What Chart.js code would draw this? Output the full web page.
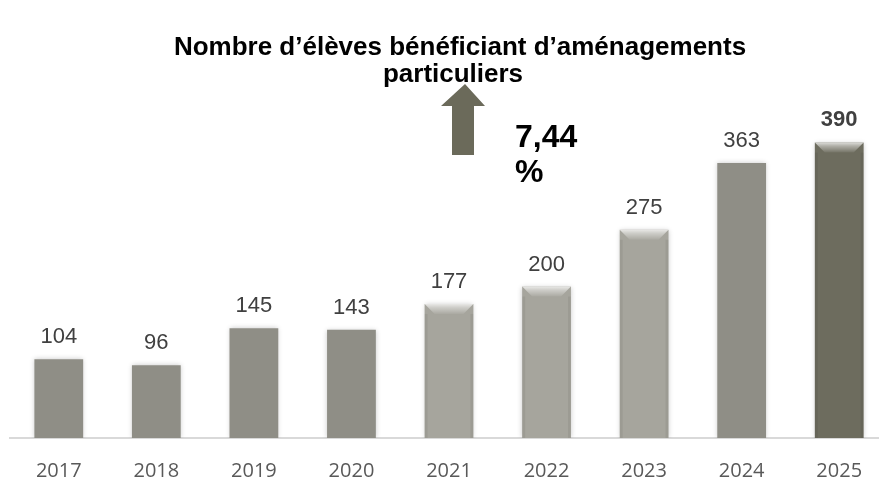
<!DOCTYPE html>
<html>
<head>
<meta charset="utf-8">
<script src="https://cdn.jsdelivr.net/npm/chart.js@4.4.1/dist/chart.umd.min.js"></script>
<style>
  html, body { margin: 0; padding: 0; background: #fff; overflow: hidden; }
  #wrap { position: relative; width: 900px; height: 482px; }
</style>
</head>
<body>
<div id="wrap"><canvas id="chartEleves" width="900" height="482"></canvas></div>
<script>
const years = ['2017', '2018', '2019', '2020', '2021', '2022', '2023', '2024', '2025'];
const eleves = [104, 96, 145, 143, 177, 200, 275, 363, 390];
const titleLines = ['Nombre d\u2019élèves bénéficiant d\u2019aménagements', 'particuliers'];
const growthText = ['7,44', '%'];

// look of each bar (flat / bevelled)
const barColors = ['#8f8e86', '#8f8e86', '#8f8e86', '#8f8e86', '#a6a59d', '#a6a59d', '#a6a59d', '#8f8e86', '#6d6c5e'];
const bevelled = [false, false, false, false, true, true, true, false, true];

const titleText = {
    id: 'titleText',
    afterDraw(chart) {
        const c = chart.ctx;
        c.save();
        c.fillStyle = '#000';
        c.font = 'bold 26px "Liberation Sans", Arial, sans-serif';
        c.textAlign = 'center';
        c.textBaseline = 'middle';
        c.fillText(titleLines[0], 460, 48);
        c.fillText(titleLines[1], 453, 75);
        c.restore();
    }
};

const barShadow = {
    id: 'barShadow',
    beforeDatasetsDraw(chart) {
        const c = chart.ctx;
        c.save();
        c.shadowColor = 'rgba(0,0,0,0.22)';
        c.shadowBlur = 5;
    },
    afterDatasetsDraw(chart) {
        chart.ctx.restore();
    }
};

const bevelPlugin = {
    id: 'bevel',
    afterDatasetsDraw(chart) {
        const c = chart.ctx;
        const meta = chart.getDatasetMeta(0);
        meta.data.forEach((bar, i) => {
            if (!bevelled[i]) return;
            const half = bar.width / 2;
            const x0 = bar.x - half, x1 = bar.x + half, top = bar.y;
            const h = 10;
            c.save();
            const g = c.createLinearGradient(0, top, 0, top + h);
            g.addColorStop(0, 'rgba(255,255,255,0.75)');
            g.addColorStop(0.35, 'rgba(255,255,255,0.45)');
            g.addColorStop(1, 'rgba(255,255,255,0.05)');
            c.fillStyle = g;
            c.beginPath();
            c.moveTo(x0, top);
            c.lineTo(x1, top);
            c.lineTo(x1 - h, top + h);
            c.lineTo(x0 + h, top + h);
            c.closePath();
            c.fill();
            c.fillStyle = 'rgba(0,0,0,0.06)';
            c.fillRect(x0, top + h, 3, bar.base - top - h);
            c.fillRect(x1 - 3, top + h, 3, bar.base - top - h);
            c.restore();
        });
    }
};

const valueLabels = {
    id: 'valueLabels',
    afterDatasetsDraw(chart) {
        const c = chart.ctx;
        const meta = chart.getDatasetMeta(0);
        c.save();
        c.textAlign = 'center';
        c.textBaseline = 'alphabetic';
        meta.data.forEach((bar, i) => {
            const last = i === eleves.length - 1;
            c.font = (last ? 'bold ' : '') + '22px "Liberation Sans", Arial, sans-serif';
            c.fillStyle = '#404040';
            c.fillText(String(eleves[i]), bar.x, bar.y - (last ? 17 : 16));
        });
        c.restore();
    }
};

const growthArrow = {
    id: 'growthArrow',
    afterDraw(chart) {
        const c = chart.ctx;
        c.save();
        c.fillStyle = '#6b6a5a';
        c.beginPath();
        c.moveTo(465, 84);
        c.lineTo(485, 106);
        c.lineTo(474, 106);
        c.lineTo(474, 155);
        c.lineTo(452, 155);
        c.lineTo(452, 106);
        c.lineTo(441, 106);
        c.closePath();
        c.fill();
        c.fillStyle = '#000';
        c.font = 'bold 32px "Liberation Sans", Arial, sans-serif';
        c.textAlign = 'left';
        c.textBaseline = 'alphabetic';
        c.fillText(growthText[0], 515, 147);
        c.fillText(growthText[1], 515, 182);
        c.restore();
    }
};

const ctx = document.getElementById('chartEleves').getContext('2d');
const myChart = new Chart(ctx, {
    type: 'bar',
    data: {
        labels: years,
        datasets: [{
            label: 'Élèves',
            data: eleves,
            backgroundColor: barColors,
            borderWidth: 0,
            barPercentage: 0.5,
            categoryPercentage: 1.0
        }]
    },
    options: {
        responsive: false,
        animation: false,
        layout: {
            padding: { left: 10, right: 12, top: 135, bottom: 0 }
        },
        scales: {
            x: {
                grid: { display: false, drawTicks: false },
                border: { display: true, color: '#d9d9d9', width: 2 },
                ticks: {
                    padding: 21,
                    color: '#595959',
                    font: { family: '"Open Sans", sans-serif', size: 20 }
                },
                afterFit(scale) {
                    scale.height = 44;
                }
            },
            y: {
                display: false,
                min: 0,
                max: 400
            }
        },
        plugins: {
            legend: { display: false },
            tooltip: { enabled: false },
            title: { display: false }
        }
    },
    plugins: [barShadow, bevelPlugin, valueLabels, growthArrow, titleText]
});
</script>
</body>
</html>
